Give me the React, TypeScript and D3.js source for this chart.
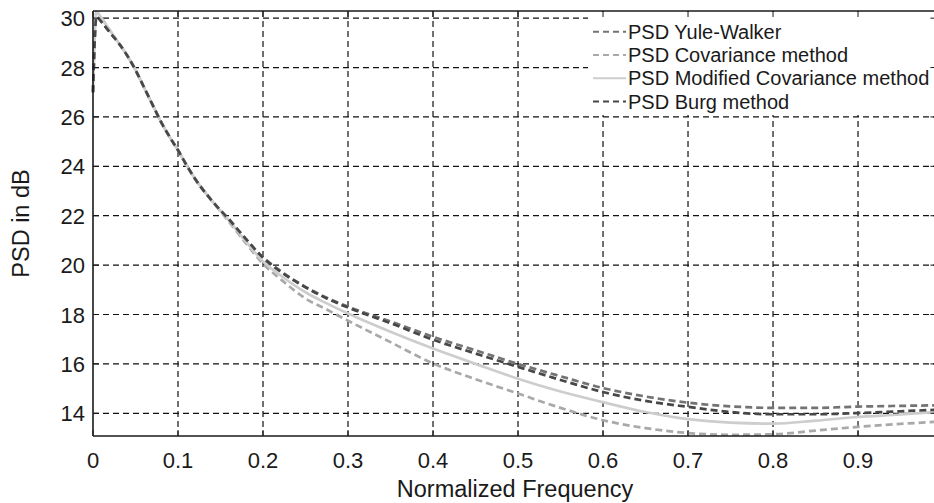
import React, { useEffect } from "react";
import * as d3 from "d3";

const freq = [0, 0.004, 0.01, 0.02, 0.03, 0.04, 0.05, 0.06, 0.07, 0.08, 0.09, 0.1, 0.11, 0.12, 0.14, 0.16, 0.18, 0.2, 0.22, 0.25, 0.275, 0.3, 0.35, 0.4, 0.45, 0.5, 0.55, 0.6, 0.65, 0.7, 0.75, 0.8, 0.85, 0.9, 0.95, 0.99];

const yuleWalker = [27.0, 30.05, 29.85, 29.42, 29.0, 28.5, 27.9, 27.2, 26.5, 25.8, 25.2, 24.65, 24.05, 23.5, 22.6, 21.85, 21.05, 20.32, 19.78, 19.12, 18.68, 18.32, 17.72, 17.1, 16.55, 16.0, 15.5, 15.02, 14.68, 14.43, 14.28, 14.22, 14.22, 14.27, 14.3, 14.32];
const covariance = [27.0, 30.25, 30.0, 29.5, 29.0, 28.5, 27.9, 27.2, 26.5, 25.8, 25.2, 24.65, 24.05, 23.5, 22.6, 21.75, 20.88, 20.05, 19.45, 18.65, 18.2, 17.75, 16.88, 16.02, 15.38, 14.8, 14.22, 13.72, 13.4, 13.2, 13.13, 13.15, 13.3, 13.45, 13.57, 13.65];
const modCovariance = [27.0, 30.25, 30.0, 29.5, 29.0, 28.5, 27.9, 27.2, 26.5, 25.8, 25.2, 24.65, 24.05, 23.5, 22.6, 21.8, 20.95, 20.15, 19.6, 18.9, 18.45, 18.04, 17.3, 16.62, 16.0, 15.4, 14.88, 14.45, 14.05, 13.76, 13.62, 13.58, 13.7, 13.85, 13.95, 14.05];
const burg = [27.0, 30.05, 29.85, 29.42, 29.0, 28.5, 27.9, 27.2, 26.5, 25.8, 25.2, 24.65, 24.05, 23.5, 22.6, 21.85, 21.05, 20.3, 19.75, 19.1, 18.65, 18.28, 17.65, 16.98, 16.42, 15.88, 15.35, 14.86, 14.5, 14.26, 14.05, 13.96, 13.96, 14.01, 14.08, 14.14];

const xTicks = [0, 0.1, 0.2, 0.3, 0.4, 0.5, 0.6, 0.7, 0.8, 0.9];
const yTicks = [14, 16, 18, 20, 22, 24, 26, 28, 30];
const seriesNames = ["PSD Yule-Walker", "PSD Covariance method", "PSD Modified Covariance method", "PSD Burg method"];

const W = 934;
const H = 503;
const FONT = "'Liberation Sans', Arial, Helvetica, sans-serif";

export default function App() {
  useEffect(() => {
    document.body.style.margin = "0";
  }, []);

  const x = d3.scaleLinear().domain([0, 0.9922]).range([93, 936.4]);
  const y = d3.scaleLinear().domain([13.08, 30.29]).range([436, 11]);
  const [x0, x1] = x.range();
  const [yb, yt] = y.range();

  const line = d3
    .line<number>()
    .x((_, i) => x(freq[i]))
    .y((d) => y(d))
    .curve(d3.curveMonotoneX);

  const series = [
    { name: seriesNames[0], data: yuleWalker, color: "#737373", dash: "7,4", width: 2.7 },
    { name: seriesNames[1], data: covariance, color: "#a9a9a9", dash: "7,4", width: 2.7 },
    { name: seriesNames[2], data: modCovariance, color: "#cdcdcd", dash: "none", width: 2.7 },
    { name: seriesNames[3], data: burg, color: "#474747", dash: "7,4", width: 2.7 },
  ];

  const gridColor = "#111";
  const axisColor = "#1a1a1a";

  return (
    <svg width={W} height={H} style={{ position: "absolute", left: 0, top: 0, background: "#fff" }} fontFamily={FONT}>
      <rect x={0} y={0} width={W} height={H} fill="#fff" />
      {/* grid */}
      <g stroke={gridColor} strokeWidth={1.2} strokeDasharray="6,4" fill="none">
        {xTicks.filter((t) => t > 0).map((t) => (
          <line key={"gx" + t} x1={x(t)} x2={x(t)} y1={yt} y2={yb} />
        ))}
        {yTicks.map((t) => (
          <line key={"gy" + t} x1={x0} x2={x1} y1={y(t)} y2={y(t)} />
        ))}
      </g>
      {/* legend background */}
      <rect x={588} y={yt + 1} width={W - 588} height={103} fill="#fff" />
      {/* curves */}
      <g fill="none">
        {series.map((s) => (
          <path
            key={s.name}
            d={line(s.data) || ""}
            stroke={s.color}
            strokeWidth={s.width}
            strokeDasharray={s.dash}
            strokeLinejoin="round"
          />
        ))}
      </g>
      {/* axes box */}
      <g stroke={axisColor} strokeWidth={1.6} fill="none">
        <line x1={x0} x2={x0} y1={yt} y2={yb} />
        <line x1={x0} x2={x1} y1={yb} y2={yb} />
        <line x1={x0} x2={x1} y1={yt} y2={yt} />
        <line x1={x1} x2={x1} y1={yt} y2={yb} />
      </g>
      {/* ticks */}
      <g stroke={axisColor} strokeWidth={1}>
        {xTicks.map((t) => (
          <g key={"tx" + t}>
            <line x1={x(t)} x2={x(t)} y1={yb} y2={yb - 6} />
            <line x1={x(t)} x2={x(t)} y1={yt} y2={yt + 6} />
          </g>
        ))}
        {yTicks.map((t) => (
          <g key={"ty" + t}>
            <line x1={x0} x2={x0 + 6} y1={y(t)} y2={y(t)} />
            <line x1={x1} x2={x1 - 6} y1={y(t)} y2={y(t)} />
          </g>
        ))}
      </g>
      {/* tick labels */}
      <g fill="#1a1a1a" fontSize={22}>
        {xTicks.map((t) => (
          <text key={"lx" + t} x={x(t)} y={468} textAnchor="middle">
            {String(t)}
          </text>
        ))}
        {yTicks.map((t) => (
          <text key={"ly" + t} x={85} y={y(t) + 8} textAnchor="end">
            {String(t)}
          </text>
        ))}
      </g>
      {/* axis labels */}
      <text x={515} y={497} textAnchor="middle" fontSize={23.5} fill="#1a1a1a">
        Normalized Frequency
      </text>
      <text
        transform={`translate(29,${(yt + yb) / 2}) rotate(-90)`}
        textAnchor="middle"
        fontSize={23.5}
        fill="#1a1a1a"
      >
        PSD in dB
      </text>
      {/* legend */}
      <g>
        {series.map((s, i) => {
          const ly = 31.7 + i * 23.3;
          return (
            <g key={"lg" + s.name}>
              <line
                x1={593}
                x2={626}
                y1={ly}
                y2={ly}
                stroke={s.color}
                strokeWidth={2}
                strokeDasharray={s.dash === "none" ? "none" : "6,4"}
              />
              <text x={628} y={ly + 7} fontSize={20} fill="#1a1a1a">
                {s.name}
              </text>
            </g>
          );
        })}
      </g>
    </svg>
  );
}
